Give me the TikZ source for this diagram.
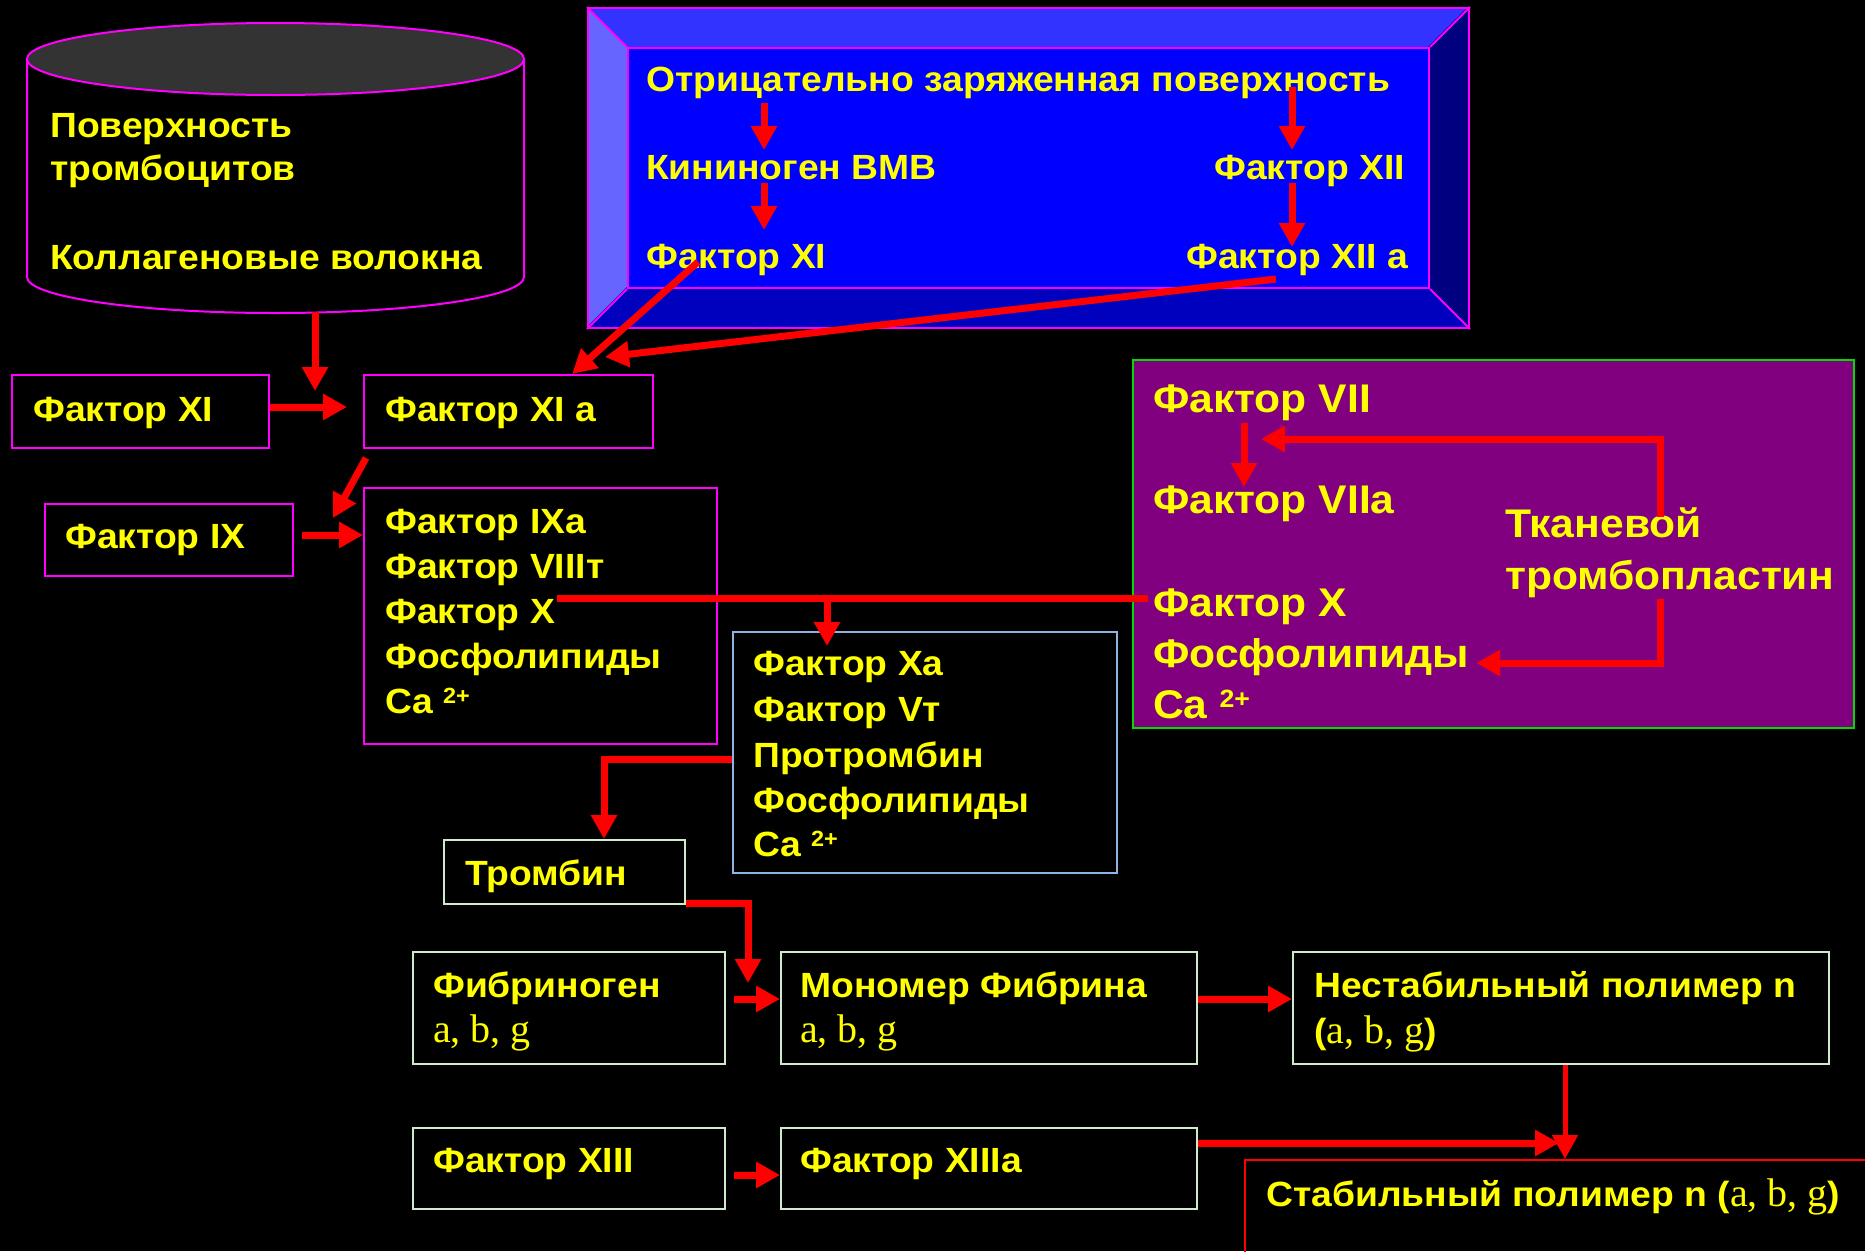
\documentclass[tikz,border=0pt]{standalone}
\usepackage{fontspec}
\setmainfont{Liberation Sans}[FakeStretch=1.065]
\newfontfamily\sergr{Liberation Serif}
\usetikzlibrary{arrows.meta,calc}
\definecolor{mag}{RGB}{255,0,255}
\definecolor{ylw}{RGB}{255,255,0}
\definecolor{rd}{RGB}{255,0,0}
\definecolor{grn}{RGB}{204,236,204}
\definecolor{lblue}{RGB}{142,180,227}
\definecolor{purp}{RGB}{128,0,128}
\definecolor{lime}{RGB}{0,220,0}
\definecolor{cyltop}{RGB}{51,51,51}
\definecolor{bvtop}{RGB}{51,51,255}
\definecolor{bvleft}{RGB}{102,102,255}
\definecolor{bvbot}{RGB}{0,0,191}
\definecolor{bvright}{RGB}{0,0,128}
\definecolor{bluein}{RGB}{0,0,255}
\newcommand{\chg}[2]{\raisebox{#1pt}{\fontsize{#2}{#2}\selectfont 2+}}
\newcommand{\abg}{{\sergr\mdseries\fontsize{40}{48}\selectfont a, b, g}}
\tikzset{
  t/.style={font=\bfseries\fontsize{35}{42}\selectfont, text=ylw, inner sep=0pt, anchor=base west},
  tb/.style={font=\bfseries\fontsize{40}{48}\selectfont, text=ylw, inner sep=0pt, anchor=base west},
  frame/.style={draw=#1, line width=2pt, inner sep=0pt, anchor=north west},
  arr/.style={draw=rd, line width=7pt, -{Triangle[length=24pt,width=25pt]}},
  ln/.style={draw=rd, line width=7pt},
}
\begin{document}
\begin{tikzpicture}[x=1pt,y=-1pt]
\fill[black] (0,0) rectangle (1865,1251);
\useasboundingbox (0,0) rectangle (1865,1251);

% cylinder
\draw[mag, line width=2pt, fill=black] (27,59) -- (27,277) arc[start angle=180, end angle=360, x radius=248.5, y radius=-36] -- (524,59);
\draw[mag, line width=2pt, fill=cyltop] (275.5,59) ellipse[x radius=248.5, y radius=36];
\coordinate (cylb) at (315,312);
\node[t] (cyl1) at (50,137) {Поверхность};
\node[t] (cyl2) at (50,180) {тромбоцитов};
\node[t] (cyl3) at (50,269) {Коллагеновые волокна};

% bevelled blue box
\fill[bvtop] (587,7) -- (1468,7) -- (1428,47) -- (627,47) -- cycle;
\fill[bvleft] (587,7) -- (627,47) -- (627,287) -- (587,327) -- cycle;
\fill[bvbot] (587,327) -- (627,287) -- (1428,287) -- (1468,327) -- cycle;
\fill[bvright] (1468,7) -- (1468,327) -- (1428,287) -- (1428,47) -- cycle;
\node[frame=mag, fill=bluein, minimum width=801pt, minimum height=240pt] (inner) at (627,47) {};
\node[frame=mag, minimum width=881pt, minimum height=320pt] (outer) at (587,7) {};
\draw[mag, line width=2pt] (outer.north west) -- (inner.north west) (outer.north east) -- (inner.north east)
  (outer.south west) -- (inner.south west) (outer.south east) -- (inner.south east);
\node[t] (neg) at (646,91) {Отрицательно заряженная поверхность};
\node[t] (kin) at (646,179) {Кининоген ВМВ};
\node[t] (bxi) at (646,268) {Фактор XI};
\node[t, anchor=base east] (bxii) at (1405,179) {Фактор XII};
\node[t, anchor=base east] (bxiia) at (1408,268) {Фактор XII a};

% purple box
\node[frame=lime, fill=purp, minimum width=721pt, minimum height=368pt] (pbox) at (1132,359) {};
\node[tb] (p1) at (1153,412) {Фактор VII};
\node[tb] (p2) at (1153,513) {Фактор VIIa};
\node[tb] (p3) at (1153,616) {Фактор X};
\node[tb] (p4) at (1153,667) {Фосфолипиды};
\node[tb] (p5) at (1153,718) {Ca \chg{11}{25}};
\node[tb] (tk1) at (1505,537) {Тканевой};
\node[tb] (tk2) at (1505,589) {тромбопластин};

% boxes
\node[frame=mag, minimum width=257pt, minimum height=73pt] (xi) at (11,374) {};
\node[frame=mag, minimum width=289pt, minimum height=73pt] (xia) at (363,374) {};
\node[frame=mag, minimum width=248pt, minimum height=72pt] (ix) at (44,503) {};
\node[frame=mag, minimum width=353pt, minimum height=256pt] (ixa) at (363,487) {};
\node[frame=lblue, minimum width=384pt, minimum height=241pt] (xa) at (732,631) {};
\node[frame=grn, minimum width=241pt, minimum height=64pt] (thr) at (443,839) {};
\node[frame=grn, minimum width=312pt, minimum height=112pt] (fib) at (412,951) {};
\node[frame=grn, minimum width=416pt, minimum height=112pt] (mon) at (780,951) {};
\node[frame=grn, minimum width=536pt, minimum height=112pt] (nest) at (1292,951) {};
\node[frame=grn, minimum width=312pt, minimum height=81pt] (xiii) at (412,1127) {};
\node[frame=grn, minimum width=416pt, minimum height=81pt] (xiiia) at (780,1127) {};
\node[frame=rd, line width=1.5pt, minimum width=640pt, minimum height=120pt] (stab) at (1244,1159) {};

% texts
\node[t] (txi) at (33,421) {Фактор XI};
\node[t] (txia) at (385,421) {Фактор XI a};
\node[t] (tix) at (65,548) {Фактор IX};
\node[t] (ixa1) at (385,533) {Фактор IXa};
\node[t] (ixa2) at (385,578) {Фактор VIIIт};
\node[t] (ixa3) at (385,623) {Фактор X};
\node[t] (ixa4) at (385,668) {Фосфолипиды};
\node[t] (ixa5) at (385,713) {Ca \chg{10}{22}};
\node[t] (xa1) at (753,675) {Фактор Xa};
\node[t] (xa2) at (753,721) {Фактор Vт};
\node[t] (xa3) at (753,767) {Протромбин};
\node[t] (xa4) at (753,812) {Фосфолипиды};
\node[t] (xa5) at (753,856) {Ca \chg{10}{22}};
\node[t] (tthr) at (465,885) {Тромбин};
\node[t] (fib1) at (433,997) {Фибриноген};
\node[t] (fib2) at (433,1042) {\abg};
\node[t] (mon1) at (800,997) {Мономер Фибрина};
\node[t] (mon2) at (800,1042) {\abg};
\node[t] (nest1) at (1314,997) {Нестабильный полимер n};
\node[t] (nest2) at (1314,1043) {(\abg)};
\node[t] (txiii) at (433,1172) {Фактор XIII};
\node[t] (txiiia) at (800,1172) {Фактор XIIIa};
\node[t] (tstab) at (1266,1206) {Стабильный полимер n (\abg)};

% connectors in blue box
\draw[arr] ($(neg.base west)+(118,12)$) -- ($(kin.base west)+(118,-29)$);
\draw[arr] ($(kin.base west)+(118,4)$) -- ($(bxi.base west)+(118,-38)$);
\draw[arr] ($(bxii.base east)+(-113,-92)$) -- ($(bxii.base east)+(-113,-29)$);
\draw[arr] ($(bxii.base east)+(-113,4)$) -- ($(bxiia.base east)+(-116,-21)$);

% blue box to XIa
\draw[arr] ($(bxi.base west)+(52,-6)$) -- ($(xia.north west)+(209,0)$);
\draw[arr] ($(bxiia.base east)+(-132,11)$) -- ($(xia.north west)+(242,-17)$);

% cylinder and XI to XIa
\draw[arr] (cylb) -- ($(xia.north west)+(-48,17)$);
\draw[arr] (xi.east |- 0,407) -- ($(xia.west |- 0,407)+(-16,0)$);

% XIa to IXa, IX to IXa
\draw[arr] ($(xia.south west)+(3,9)$) -- ($(ixa.north west)+(-30,31)$);
\draw[arr] ($(ix.east |- 0,535)+(8,0)$) -- (ixa.west |- 0,535);

% Factor X line
\draw[ln] ($(ixa3.base east)+(2,-25)$) -- ($(p3.base west)+(-5,-18)$);
\draw[arr] (827,598) -- ($(xa.north west)+(95,15)$);

% purple internal
\draw[arr] ($(p1.base west)+(91,11)$) -- ($(p2.base west)+(91,-26)$);
\draw[arr] ($(tk1.base west)+(155,-20)$) -- ++(0,-78) -- ($(p1.base west)+(108,27)$);
\draw[arr] ($(tk2.base west)+(155,10)$) -- ++(0,64) -- ($(p4.base east)+(7,-4)$);

% Xa to thrombin
\draw[arr] (xa.west |- 0,759) -- (604,759) -- (thr.north -| 604,0);
% thrombin to monomer
\draw[arr] (thr.east |- 0,903) -- (748,903) -- ($(mon.north west)+(-32,32)$);
% fibrinogen to monomer
\draw[arr] ($(fib.east |- 0,999)+(8,0)$) -- (mon.west |- 0,999);
% monomer to unstable
\draw[arr] (mon.east |- 0,999) -- (nest.west |- 0,999);
% unstable to stable
\draw[arr, line width=5pt] (nest.south -| 1565,0) -- (stab.north -| 1565,0);
% XIIIa to stable
\draw[arr] (xiiia.east |- 0,1143) -- (1559,1143);
% XIII to XIIIa
\draw[arr] ($(xiii.east |- 0,1175)+(8,0)$) -- (xiiia.west |- 0,1175);
\end{tikzpicture}
\end{document}
